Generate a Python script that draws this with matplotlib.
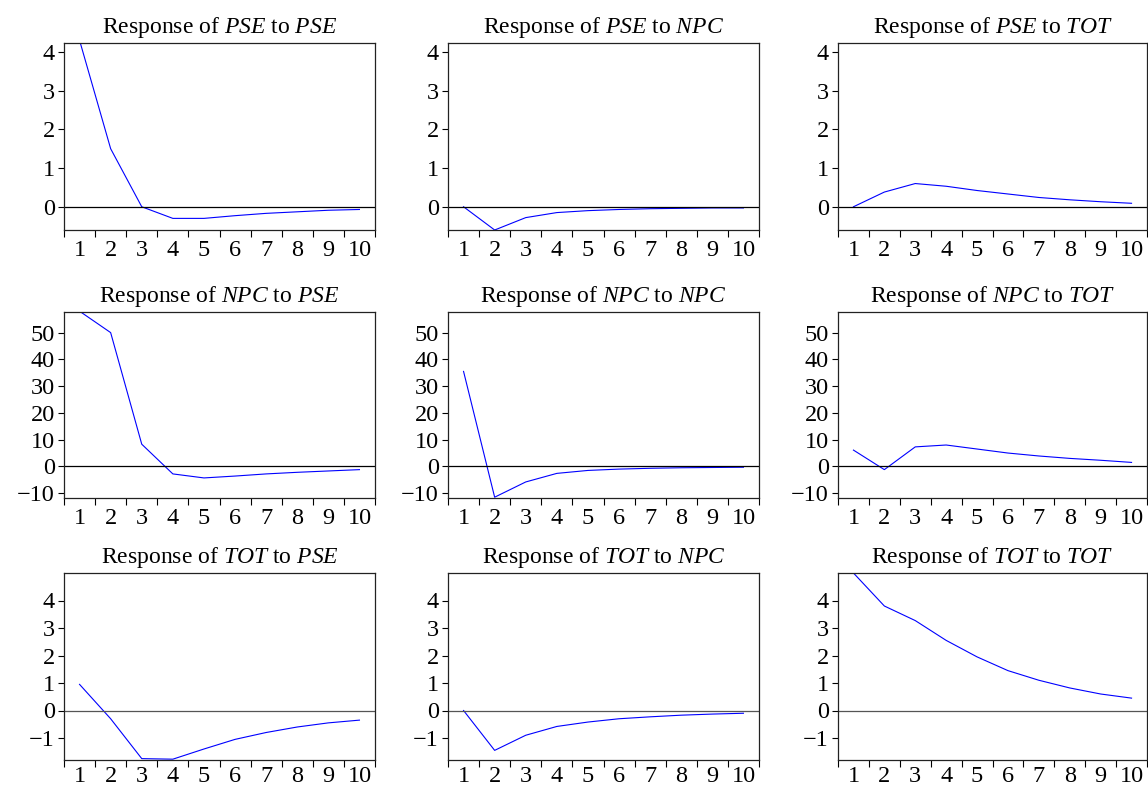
import numpy as np
import matplotlib
matplotlib.use("Agg")
import matplotlib.pyplot as plt

plt.rcParams["font.family"] = ["Liberation Serif", "DejaVu Serif"]
plt.rcParams["mathtext.fontset"] = "custom"
plt.rcParams["mathtext.rm"] = "Liberation Serif"
plt.rcParams["mathtext.it"] = "Liberation Serif:italic"

periods = np.arange(1, 11)
variables = ["PSE", "NPC", "TOT"]

# impulse responses, rows = response variable, columns = shock
pse_pse = [4.3, 1.5, 0.0, -0.3, -0.3, -0.23, -0.17, -0.13, -0.09, -0.07]
pse_npc = [0.0, -0.6, -0.28, -0.15, -0.1, -0.07, -0.05, -0.04, -0.03, -0.03]
pse_tot = [0.0, 0.38, 0.6, 0.53, 0.42, 0.33, 0.24, 0.18, 0.13, 0.09]
npc_pse = [58.0, 50.0, 8.3, -2.8, -4.3, -3.6, -2.8, -2.2, -1.7, -1.2]
npc_npc = [35.5, -11.5, -5.8, -2.6, -1.5, -1.0, -0.7, -0.5, -0.4, -0.3]
npc_tot = [6.1, -1.2, 7.3, 8.0, 6.5, 5.0, 3.9, 3.0, 2.3, 1.5]
tot_pse = [0.95, -0.3, -1.75, -1.77, -1.4, -1.05, -0.8, -0.6, -0.45, -0.35]
tot_npc = [0.0, -1.45, -0.9, -0.58, -0.42, -0.3, -0.23, -0.17, -0.13, -0.1]
tot_tot = [5.0, 3.8, 3.27, 2.55, 1.95, 1.45, 1.1, 0.82, 0.6, 0.45]

responses = [
    [pse_pse, pse_npc, pse_tot],
    [npc_pse, npc_npc, npc_tot],
    [tot_pse, tot_npc, tot_tot],
]

row_ylims = [(-0.6, 4.23), (-11.8, 57.7), (-1.8, 5.0)]
row_yticks = [[0, 1, 2, 3, 4], [-10, 0, 10, 20, 30, 40, 50], [-1, 0, 1, 2, 3, 4]]
zero_colors = ["black", "black", "#555555"]
xlabel_pad = [7.5, 7.5, 4.5]

W, H = 1148, 789
col_left = [64, 448, 838]
col_right = [375, 759, 1147]
row_top = [43, 312, 573]
row_bottom = [230, 498, 760]

fig = plt.figure(figsize=(W / 100, H / 100), dpi=100)

for i in range(3):
    for j in range(3):
        l, r = col_left[j], col_right[j]
        t, b = row_top[i], row_bottom[i]
        ax = fig.add_axes([l / W, 1 - b / H, (r - l) / W, (b - t) / H])
        ax.plot(periods, responses[i][j], color="#0000ff", lw=0.8)
        ax.axhline(0, color=zero_colors[i], lw=0.9)
        ax.set_xlim(0.5, 10.5)
        ax.set_ylim(*row_ylims[i])
        ax.set_yticks(row_yticks[i])
        ax.set_yticklabels([str(v).replace("-", "\u2212") for v in row_yticks[i]])
        # tick marks between periods, labels under each period
        ax.set_xticks(np.arange(0.5, 11, 1))
        ax.set_xticklabels([])
        ax.set_xticks(periods, minor=True)
        ax.set_xticklabels([str(p) for p in periods], minor=True)
        ax.tick_params(axis="x", which="major", direction="out", length=5, width=0.8)
        ax.tick_params(axis="x", which="minor", length=0, pad=xlabel_pad[i],
                       labelsize=17.5)
        ax.tick_params(axis="y", direction="out", length=4.5, width=0.8, pad=2,
                       labelsize=17.5)
        for s in ax.spines.values():
            s.set_linewidth(0.9)
            s.set_color("#222222")
        ax.set_title(
            r"Response of $\mathit{%s}$ to $\mathit{%s}$" % (variables[i], variables[j]),
            fontsize=17, pad=7,
        )

fig.savefig("out.png", dpi=100)
